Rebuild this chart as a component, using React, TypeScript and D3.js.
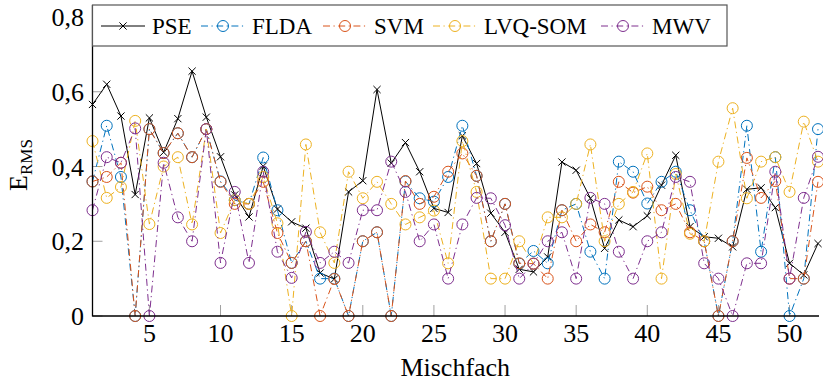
import React from "react";
import * as d3 from "d3";

const mischfach = [1,2,3,4,5,6,7,8,9,10,11,12,13,14,15,16,17,18,19,20,21,22,23,24,25,26,27,28,29,30,31,32,33,34,35,36,37,38,39,40,41,42,43,44,45,46,47,48,49,50,51,52];

const pse = [0.566,0.62,0.535,0.325,0.53,0.438,0.528,0.655,0.532,0.426,0.324,0.265,0.401,0.286,0.252,0.235,0.115,0.099,0.332,0.362,0.606,0.409,0.464,0.386,0.288,0.277,0.482,0.408,0.275,0.224,0.125,0.118,0.158,0.412,0.39,0.315,0.181,0.257,0.239,0.268,0.35,0.43,0.239,0.212,0.208,0.185,0.339,0.343,0.29,0.141,0.11,0.194];

const flda = [0.36,0.509,0.372,0,0.5,0.436,0.489,0.425,0.5,0.36,0.31,0.3,0.424,0.283,0.142,0.2,0.1,0.1,0,0.2,0.224,0,0.36,0.315,0.306,0.372,0.509,0.375,0.2,0.3,0.14,0.174,0.141,0.283,0.3,0.172,0.1,0.413,0.386,0.301,0.359,0.386,0.283,0.2,0,0.2,0.509,0.172,0.425,0,0.1,0.5];

const svm = [0.36,0.372,0.41,0,0.5,0.436,0.489,0.425,0.5,0.359,0.3,0.3,0.359,0.222,0.142,0.2,0,0.099,0,0.2,0.224,0,0.361,0.3,0.319,0.386,0.435,0.375,0.2,0.3,0.141,0.14,0.1,0.283,0.2,0.245,0.224,0.359,0.33,0.346,0.283,0.3,0.224,0.2,0,0.2,0.423,0.316,0.361,0.1,0.1,0.359];

const lvqsom = [0.468,0.316,0.345,0.522,0.246,0.4,0.425,0.245,0.5,0.222,0.31,0.3,0.372,0.248,0,0.459,0.224,0.142,0.386,0.315,0.359,0.3,0.245,0.264,0.282,0.141,0.468,0.332,0.1,0.1,0.2,0.14,0.264,0.264,0.3,0.459,0.2,0.3,0.332,0.435,0.1,0.38,0.22,0.2,0.413,0.556,0.315,0.413,0.425,0.332,0.52,0.413];

const mwv = [0.283,0.425,0.41,0.502,0,0.41,0.264,0.2,0.5,0.142,0.332,0.142,0.386,0.172,0.102,0.225,0.142,0.172,0.142,0.283,0.283,0.413,0.332,0.2,0.245,0.1,0.245,0.316,0.315,0.243,0.1,0.14,0.2,0.224,0.1,0.316,0.3,0.172,0.1,0.2,0.224,0.372,0.359,0.141,0.1,0,0.141,0.141,0.386,0.1,0.316,0.426];

const seriesNames = ["PSE", "FLDA", "SVM", "LVQ-SOM", "MWV"];
const seriesValues = [pse, flda, svm, lvqsom, mwv];
const seriesColors = ["#000000", "#0072BD", "#D95319", "#EDB120", "#7E2F8E"];

const xTicks = [5, 10, 15, 20, 25, 30, 35, 40, 45, 50];
const yTicks = [0, 0.2, 0.4, 0.6, 0.8];
const yTickLabels = ["0", "0,2", "0,4", "0,6", "0,8"];

const FONT = "'Liberation Serif', 'Times New Roman', serif";
const DASH = "7,3.5,1.2,3.5";

export default function App() {
  const W = 823, H = 383;
  const left = 92.5, right = 818, top = 17, bottom = 316;
  const x = d3.scaleLinear().domain([1, 52]).range([left, right]);
  const y = d3.scaleLinear().domain([0, 0.8]).range([bottom, top]);

  const makeLine = (vals: number[]) =>
    d3.line<number>().x((_, i) => x(mischfach[i])).y((d) => y(d))(vals) || "";

  const legendStarts = [101, 201, 323, 433, 601];
  const legendY = 26;
  const sampleW = 44;

  const cross = (cx: number, cy: number, s: number, color: string, key: string) => (
    <g key={key} stroke={color} strokeWidth={1}>
      <line x1={cx - s} y1={cy - s} x2={cx + s} y2={cy + s} />
      <line x1={cx - s} y1={cy + s} x2={cx + s} y2={cy - s} />
    </g>
  );

  return (
    <svg width={W} height={H} style={{ position: "absolute", left: 0, top: 0, display: "block", background: "#fff" }} fontFamily={FONT}>
      {/* ticks */}
      {xTicks.map((t) => (
        <line key={"xt" + t} x1={x(t)} x2={x(t)} y1={bottom} y2={bottom - 11} stroke="#a0a0a0" strokeWidth={1} />
      ))}
      {yTicks.map((t) => (
        <line key={"yt" + t} x1={left} x2={left + 10} y1={y(t)} y2={y(t)} stroke="#a0a0a0" strokeWidth={1} />
      ))}

      {/* series */}
      {seriesValues.map((vals, si) => (
        <g key={"s" + si}>
          <path d={makeLine(vals)} fill="none" stroke={seriesColors[si]} strokeWidth={1}
            strokeDasharray={si === 0 ? undefined : DASH} />
          {vals.map((v, i) =>
            si === 0
              ? cross(x(mischfach[i]), y(v), 3.6, seriesColors[si], "m" + si + "-" + i)
              : <circle key={"m" + si + "-" + i} cx={x(mischfach[i])} cy={y(v)} r={5.5} fill="none" stroke={seriesColors[si]} strokeWidth={1} />
          )}
        </g>
      ))}

      {/* axes */}
      <line x1={left} x2={left} y1={bottom + 0.5} y2={5} stroke="#000" strokeWidth={1.3} />
      <line x1={left} x2={819} y1={bottom} y2={bottom} stroke="#000" strokeWidth={1.3} />

      {/* tick labels */}
      {xTicks.map((t) => (
        <text key={"xl" + t} x={x(t)} y={342} fontSize={26} textAnchor="middle">{t}</text>
      ))}
      {yTicks.map((t, i) => (
        <text key={"yl" + t} x={84} y={y(t) + 9} fontSize={26} textAnchor="end">{yTickLabels[i]}</text>
      ))}

      {/* axis labels */}
      <text x={(left + right) / 2} y={376} fontSize={26} textAnchor="middle">Mischfach</text>
      <text transform="translate(27,165) rotate(-90)" fontSize={26} textAnchor="middle">
        <tspan>E</tspan>
        <tspan fontSize={17} dy={5}>RMS</tspan>
      </text>

      {/* legend */}
      <rect x={left} y={5} width={727 - left} height={41} fill="#fff" stroke="#555" strokeWidth={1.2} />
      {seriesNames.map((name, si) => {
        const sx = legendStarts[si];
        const mx = sx + sampleW / 2;
        return (
          <g key={"lg" + si}>
            <line x1={sx} x2={sx + sampleW} y1={legendY} y2={legendY} stroke={seriesColors[si]} strokeWidth={1}
              strokeDasharray={si === 0 ? undefined : DASH} />
            {si === 0
              ? cross(mx, legendY, 3.6, seriesColors[si], "lgm")
              : <circle cx={mx} cy={legendY} r={5.5} fill="none" stroke={seriesColors[si]} strokeWidth={1} />}
            <text x={sx + sampleW + 7} y={legendY + 8} fontSize={23}>{name}</text>
          </g>
        );
      })}
    </svg>
  );
}
